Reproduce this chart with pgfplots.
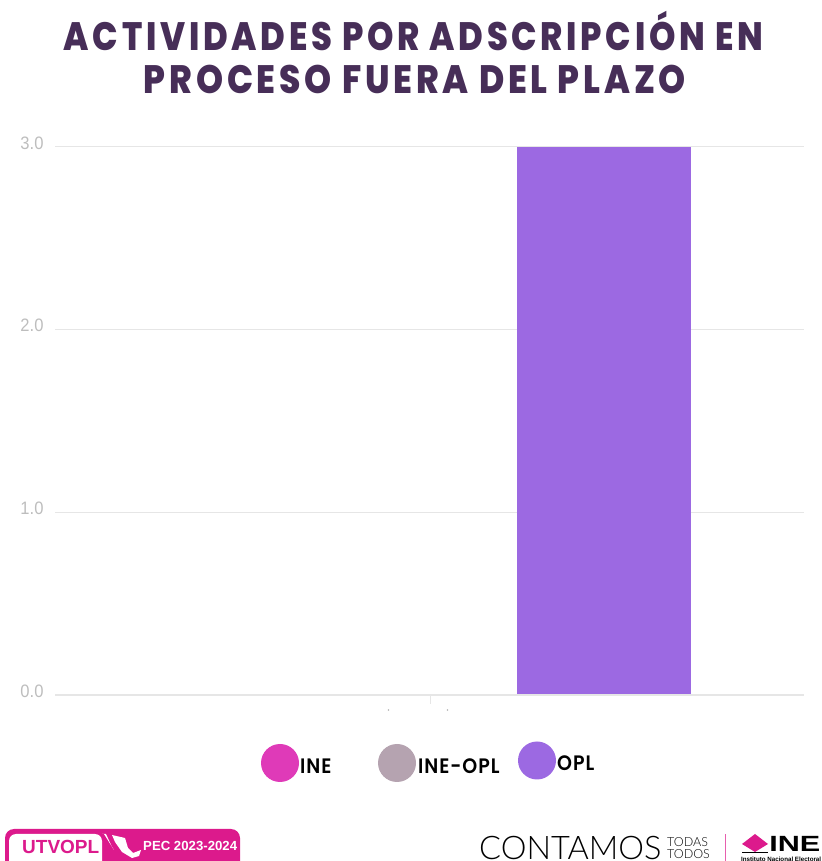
\documentclass[border=0pt]{standalone}
\usepackage{pgfplots}
\pgfplotsset{compat=1.18}
\usepackage{fontspec}
\setmainfont{Liberation Sans}
\newfontfamily\titlefont[LetterSpace=11]{Poppins ExtraBold}
\newfontfamily\legfont[LetterSpace=5]{Poppins SemiBold}
\newfontfamily\thinfont{Lato Light}
\definecolor{cINE}{HTML}{DF3AB8}
\definecolor{cMix}{HTML}{B5A3B0}
\definecolor{cOPL}{HTML}{9C69E2}
\definecolor{cTitle}{HTML}{472E58}
\definecolor{cGrid}{HTML}{E6E6E6}
\definecolor{cTick}{HTML}{BDBDBD}
\definecolor{cPink}{HTML}{DC1A8C}

\begin{document}
\begin{tikzpicture}[x=1pt,y=1pt]
\useasboundingbox (0,0) rectangle (821,861);
\clip (0,0) rectangle (821,861);

\node[text=cTitle,xscale=0.934,yscale=1.1,font=\titlefont\fontsize{36}{40}\selectfont,anchor=center] at (413.5,830) {ACTIVIDADES POR ADSCRIPCIÓN EN};
\node[text=cTitle,xscale=0.956,yscale=1.1,font=\titlefont\fontsize{36}{40}\selectfont,anchor=center] at (415,781.5) {PROCESO FUERA DEL PLAZO};

\begin{axis}[
  at={(55pt,166pt)}, anchor=south west,
  scale only axis, width=749pt, height=548pt,
  ybar=0pt, bar width=174.5pt,
  xmin=-1, xmax=1, ymin=0, ymax=3,
  xtick={0}, xticklabels={},
  ytick={0,1,2,3},
  yticklabel style={font=\fontsize{18}{20}\selectfont,text=cTick,xscale=0.92,xshift=-9pt,yshift=4pt},
  /pgf/number format/assume math mode=true,
  /pgf/number format/fixed, /pgf/number format/fixed zerofill, /pgf/number format/precision=1,
  ymajorgrids, major grid style={cGrid,line width=1pt},
  axis line style={draw=none},
  axis x line*=bottom, axis y line*=left,
  major tick length=0pt,
]
\addplot[fill=cINE,draw=none] coordinates {(0,0)};
\addplot[fill=cMix,draw=none] coordinates {(0,0)};
\addplot[fill=cOPL,draw=none] coordinates {(0,3)};
\end{axis}
\draw[cGrid,line width=2pt] (55,166) -- (804,166);
\draw[cGrid,line width=0.8pt] (430,166) -- (430,157);
\fill[gray!60] (388.5,151) circle (0.8);
\fill[gray!60] (447.5,151) circle (0.8);

% leyenda
\fill[cINE] (280,98) circle (19);
\fill[cMix] (397,98) circle (19);
\fill[cOPL] (537,100.5) circle (19);
\node[anchor=west,inner sep=0,yscale=1.1,font=\legfont\fontsize{19}{20}\selectfont] at (300,95) {INE};
\node[anchor=west,inner sep=0,yscale=1.1,font=\legfont\fontsize{19}{20}\selectfont] at (418,95) {INE-OPL};
\node[anchor=west,inner sep=0,yscale=1.1,font=\legfont\fontsize{19}{20}\selectfont] at (557,97.5) {OPL};

% logos
\fill[cPink,rounded corners=9pt] (5,-12) rectangle (240,32);
\fill[white,rounded corners=7pt] (9,-12) rectangle (102,27);
\fill[white] (102,27) -- (106,27) -- (112,14) -- (114,11) -- (104,27) -- cycle;
\fill[white] (112,26) -- (125,23) -- (128,13) -- (133,8) -- (141,11) -- (139,5) -- (132,3) -- (122,9) -- (115,19) -- cycle;
\node[anchor=west,inner sep=0,text=cPink,font=\bfseries\fontsize{19}{20}\selectfont] at (22,14) {UTVOPL};
\node[anchor=west,inner sep=0,text=white,font=\bfseries\fontsize{13.2}{14}\selectfont] at (143,15) {PEC 2023-2024};
\node[anchor=west,inner sep=0,font=\thinfont\fontsize{32.5}{34}\selectfont] at (479,13) {CONTAMOS};
\node[anchor=west,inner sep=0,align=left,font=\thinfont\fontsize{12.5}{12.5}\selectfont] at (667,13) {TODAS\\TODOS};
\draw[cPink!70,line width=1pt] (725,0) -- (725,27);
\fill[cPink] (755,27) -- (768,17) -- (755,9) -- (742,17) -- cycle;
\draw[black,line width=1pt] (742,8) -- (768,8);
\node[anchor=west,inner sep=0,xscale=1.39,font=\bfseries\fontsize{22}{22}\selectfont] at (769,17) {INE};
\node[anchor=west,inner sep=0,font=\bfseries\fontsize{6.2}{6}\selectfont] at (741,2) {Instituto Nacional Electoral};
\end{tikzpicture}
\end{document}
